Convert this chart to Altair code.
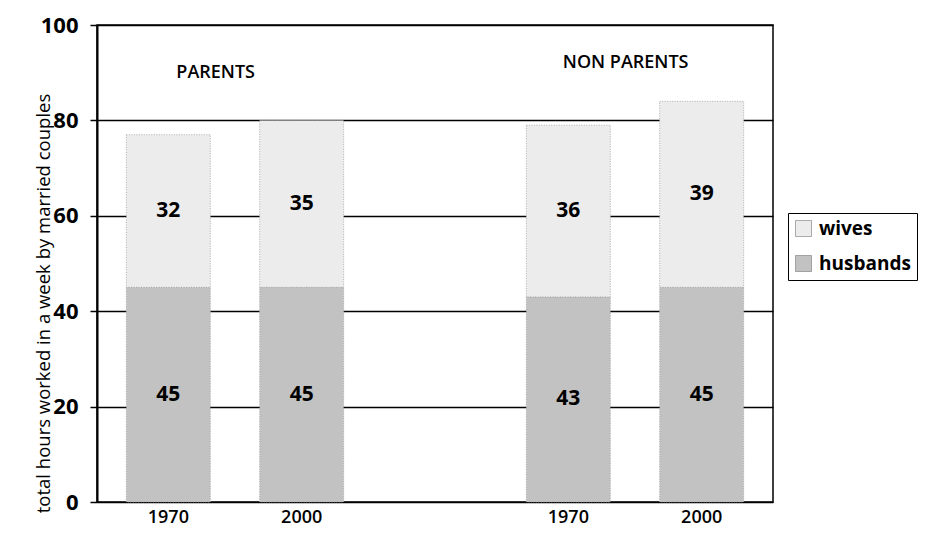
import altair as alt
import pandas as pd

groups = ["PARENTS", "PARENTS", "NON PARENTS", "NON PARENTS"]
years = ["1970", "2000", "1970", "2000"]
husbands = [45, 45, 43, 45]
wives = [32, 35, 36, 39]
series = ["wives", "husbands"]
slot_domain = ["PARENTS 1970", "PARENTS 2000", " ", "NON PARENTS 1970", "NON PARENTS 2000"]
y_ticks = [0, 20, 40, 60, 80, 100]
y_title = "total hours worked in a week by married couples"

rows = []
for g, yr, h, w in zip(groups, years, husbands, wives):
    slot = f"{g} {yr}"
    rows.append({"slot": slot, "series": "husbands", "hours": h, "order": 0, "mid": h / 2})
    rows.append({"slot": slot, "series": "wives", "hours": w, "order": 1, "mid": h + w / 2})
df = pd.DataFrame(rows)

FONT = "Open Sans"
xscale = alt.Scale(domain=slot_domain, paddingInner=0.37, paddingOuter=0.22)

x_enc = alt.X(
    "slot:N",
    scale=xscale,
    sort=slot_domain,
    axis=alt.Axis(
        title=None, labelAngle=0, ticks=False, domain=False,
        labelExpr="slice(datum.value, -4)", labelFont=FONT, labelFontSize=18,
        labelFontWeight=600, labelColor="black", labelPadding=6,
    ),
)

bars = alt.Chart(df).mark_bar(
    stroke="#9a9a9a", strokeWidth=0.8, strokeDash=[1, 1.5]
).encode(
    x=x_enc,
    y=alt.Y(
        "hours:Q", stack="zero",
        scale=alt.Scale(domain=[0, 100], nice=False),
        axis=alt.Axis(
            values=y_ticks, title=y_title, grid=True, gridColor="black",
            gridWidth=1.5, gridOpacity=1, domainColor="black", domainWidth=2,
            tickColor="black", tickSize=7, tickWidth=1.5, labelFont=FONT,
            labelFontSize=22, labelFontWeight="bold", labelColor="black",
            labelPadding=12, titleFont=FONT, titleFontSize=18.5,
            titleFontWeight="normal", titleColor="black", titleX=-54,
            titleY=278, titleAngle=-90, titleAlign="center", titleBaseline="middle",
        ),
    ),
    color=alt.Color(
        "series:N",
        scale=alt.Scale(domain=series, range=["#ececec", "#c2c2c2"]),
        legend=alt.Legend(
            title=None, orient="none", legendX=691, legendY=188,
            strokeColor="black", padding=6, symbolType="square", symbolSize=256,
            symbolStrokeColor="#777", symbolStrokeWidth=0.6,
            labelFont=FONT, labelFontSize=19, labelFontWeight="bold",
            labelColor="black", labelOffset=6, rowPadding=15, cornerRadius=0,
            fillColor="white",
        ),
    ),
    order=alt.Order("order:Q"),
)

labels = alt.Chart(df).mark_text(
    font=FONT, fontSize=21, fontWeight="bold", color="black"
).encode(
    x=alt.X("slot:N", sort=slot_domain, scale=xscale),
    y=alt.Y("mid:Q"),
    text=alt.Text("hours:Q"),
)

gt_df = pd.DataFrame({"slot": ["PARENTS 2000", "NON PARENTS 2000"],
                      "label": ["PARENTS", "NON PARENTS"], "y": [90, 92]})
title_p = alt.Chart(gt_df.iloc[[0]]).mark_text(
    font=FONT, fontSize=18, fontWeight=600, color="black", dx=-86
).encode(x=alt.X("slot:N", sort=slot_domain, scale=xscale),
         y=alt.Y("y:Q"), text="label:N")
title_n = alt.Chart(gt_df.iloc[[1]]).mark_text(
    font=FONT, fontSize=18, fontWeight=600, color="black", dx=-76
).encode(x=alt.X("slot:N", sort=slot_domain, scale=xscale),
         y=alt.Y("y:Q"), text="label:N")

chart = alt.layer(bars, labels, title_p, title_n).properties(
    width=676, height=477,
    autosize=alt.AutoSizeParams(type="none"),
    padding={"left": 89, "top": 17, "right": 151, "bottom": 26},
).configure_view(stroke="black", strokeWidth=1.5).configure_axisX(
    domain=True, domainColor="black", domainWidth=1.5
)

chart.save("out.html", embed_options={"renderer": "svg", "actions": False})
